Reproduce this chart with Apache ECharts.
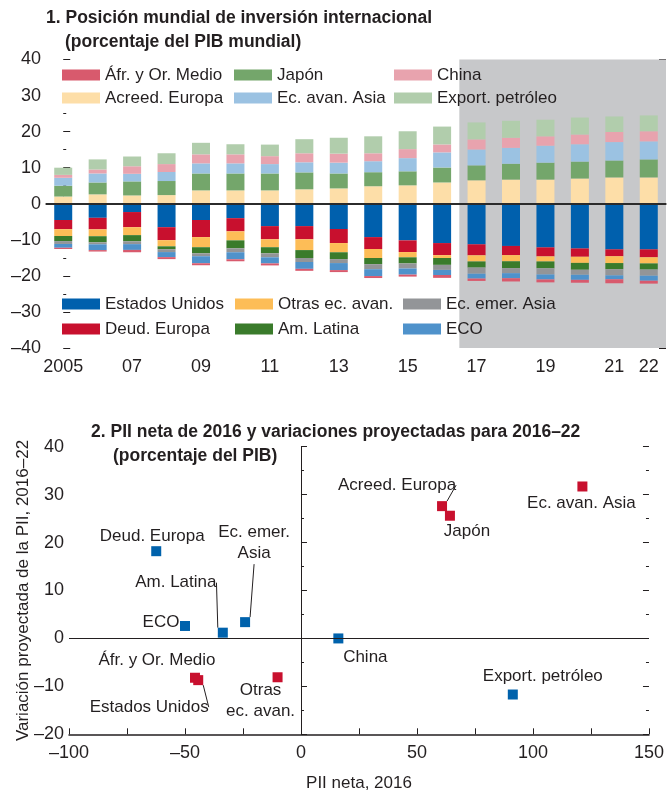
<!DOCTYPE html>
<html>
<head>
<meta charset="utf-8">
<script src="https://cdn.jsdelivr.net/npm/echarts@6.0.0/dist/echarts.min.js"></script>
<style>
html,body{margin:0;padding:0;background:#fff;}
#chart{width:667px;height:794px;}
</style>
</head>
<body>
<div id="chart"></div>
<script>
// ---------- Panel 1 data ----------
const years = ['2005','2006','2007','2008','2009','2010','2011','2012','2013','2014','2015','2016','2017','2018','2019','2020','2021','2022'];
const yearTickLabels = ['2005','','07','','09','','11','','13','','15','','17','','19','','21','22'];
const projectionStart = '2017';

const acreedEuropa = [2.0, 2.6, 2.3, 2.4, 3.7, 3.7, 3.7, 4.0, 4.25, 4.85, 5.1, 5.9, 6.5, 6.7, 6.7, 7.0, 7.3, 7.3];
const japon        = [3.0, 3.3, 3.9, 3.9, 4.7, 4.7, 4.7, 4.7, 4.15, 3.9, 3.9, 4.15, 4.15, 4.4, 4.7, 4.7, 4.7, 5.0];
const ecAvanAsia   = [2.2, 2.5, 2.1, 2.5, 2.8, 2.8, 2.6, 2.8, 3.0, 3.05, 3.65, 4.2, 4.4, 4.4, 4.7, 4.8, 5.1, 5.0];
const china        = [0.8, 1.1, 2.1, 2.2, 2.5, 2.5, 2.2, 2.5, 2.5, 2.2, 2.5, 2.2, 2.8, 2.8, 2.6, 2.7, 2.8, 2.8];
const exportPetro  = [2.0, 2.8, 2.7, 3.0, 3.2, 2.8, 3.2, 3.9, 4.4, 4.7, 4.95, 4.95, 4.7, 4.7, 4.6, 4.7, 4.3, 4.4];

const estadosUnidos = [-4.5, -3.9, -2.3, -6.5, -4.5, -4.0, -6.2, -6.2, -7.0, -9.25, -10.15, -10.9, -11.25, -11.7, -12.1, -12.4, -12.65, -12.65];
const deudEuropa    = [-2.55, -3.2, -4.2, -3.6, -4.75, -3.65, -3.65, -3.65, -3.9, -3.3, -3.25, -3.35, -3.05, -2.55, -2.5, -2.3, -1.9, -2.2];
const otrasEcAvan   = [-1.9, -1.9, -2.2, -1.7, -2.8, -2.5, -2.2, -3.0, -2.55, -2.5, -1.45, -0.8, -1.7, -1.7, -1.4, -1.7, -1.9, -1.7];
const amLatina      = [-1.4, -1.7, -1.7, -0.8, -1.7, -2.2, -1.7, -2.2, -1.9, -1.7, -1.7, -1.9, -1.7, -1.9, -1.9, -1.9, -1.7, -1.7];
const ecEmerAsia    = [-0.8, -0.55, -0.8, -0.8, -0.8, -1.1, -1.1, -1.1, -1.1, -1.4, -1.4, -1.4, -1.7, -1.4, -1.7, -1.4, -1.7, -1.7];
const eco           = [-1.05, -1.6, -1.6, -1.4, -1.95, -1.95, -1.7, -1.9, -1.95, -1.9, -1.7, -1.4, -1.35, -1.4, -1.4, -1.4, -1.1, -1.4];
const afrOrMedio    = [-0.35, -0.4, -0.65, -0.55, -0.55, -0.55, -0.55, -0.55, -0.55, -0.55, -0.55, -0.8, -0.65, -0.9, -0.8, -0.8, -1.1, -0.8];

// ---------- Panel 2 data ----------
const regions      = ['Deud. Europa','Ec. emer. Asia','Am. Latina','ECO','China','Áfr. y Or. Medio','Estados Unidos','Otras ec. avan.','Export. petróleo','Acreed. Europa','Japón','Ec. avan. Asia'];
const regionLabels = ['Deud. Europa','Ec. emer.\nAsia','Am. Latina','ECO','China','Áfr. y Or. Medio','Estados Unidos','Otras\nec. avan.','Export. petróleo','Acreed. Europa','Japón','Ec. avan. Asia'];
const netIIP2016   = [-62.4, -24.1, -33.7, -50.0, 16.1, -45.7, -44.3, -10.1, 91.3, 60.8, 64.2, 121.3];
const projChange   = [18.2, 3.4, 1.2, 2.6, 0.0, -8.2, -8.7, -8.1, -11.7, 27.6, 25.6, 31.7];
const pointGroup   = ['b','b','b','b','b','r','r','r','b','r','r','r'];

// ---------- styles ----------
const INK = '#231F20';
const FONT = '"Liberation Sans", Arial, sans-serif';
const groupColor = {b: '#0062AC', r: '#C8102E'};
const labelOffsets = [[-4,-15],[9,-79],[-47,-50],[-24,-4],[27,19],[-38,-17],[-49,27],[-17,24],[30,-18],[-45,-21],[17,16],[-1,17]];
const leaderLine = [false,true,true,false,false,false,true,false,false,true,false,false];

const dash = v => String(v).replace('-', '\u2013');

const barDefs = [
  ['Acreed. Europa', acreedEuropa, '#FDDEA8'],
  ['Japón', japon, '#74A66B'],
  ['Ec. avan. Asia', ecAvanAsia, '#9BC2E2'],
  ['China', china, '#E8A3AE'],
  ['Export. petróleo', exportPetro, '#B1CDAC'],
  ['Estados Unidos', estadosUnidos, '#0060AD'],
  ['Deud. Europa', deudEuropa, '#C8102E'],
  ['Otras ec. avan.', otrasEcAvan, '#FDBD57'],
  ['Am. Latina', amLatina, '#3A7B2B'],
  ['Ec. emer. Asia', ecEmerAsia, '#939598'],
  ['ECO', eco, '#4F92CB'],
  ['Áfr. y Or. Medio', afrOrMedio, '#D85A6D']
];

const barSeries = barDefs.map(([name, data, color]) => ({
  name, type: 'bar', stack: 'pii', data, barWidth: 18,
  xAxisIndex: 0, yAxisIndex: 0, z: 2,
  itemStyle: {color}, emphasis: {disabled: true}
}));

const legendText = {fontFamily: FONT, fontSize: 17, color: INK, lineHeight: 20};
function legendCol(left, top, gap, names) {
  return {left, top, orient: 'vertical', padding: 0, itemGap: gap, itemWidth: 38, itemHeight: 11,
    icon: 'rect', selectedMode: false, textStyle: legendText, data: names};
}

const titleStyle = {fontFamily: FONT, fontWeight: 'bold', fontSize: 17.5, lineHeight: 22, color: INK};
const axisLabelStyle = {fontFamily: FONT, fontSize: 18, color: INK};
const tickStyle = {color: INK, width: 1};

const scatterData = regions.map((n, i) => ({
  name: n, value: [netIIP2016[i], projChange[i]],
  itemStyle: {color: groupColor[pointGroup[i]], opacity: 1},
  labelLine: {show: leaderLine[i]}
}));

const sIdx = years.indexOf(projectionStart);

const option = {
  animation: false,
  title: [
    {text: '1. Posición mundial de inversión internacional', left: 46, top: 7, padding: 0, textStyle: titleStyle},
    {text: '(porcentaje del PIB mundial)', left: 65, top: 31, padding: 0, textStyle: titleStyle},
    {text: '2. PII neta de 2016 y variaciones proyectadas para 2016–22', left: 91, top: 421, padding: 0, textStyle: titleStyle},
    {text: '(porcentaje del PIB)', left: 113, top: 445, padding: 0, textStyle: titleStyle}
  ],
  legend: [
    legendCol(62, 65, 3, ['Áfr. y Or. Medio', 'Acreed. Europa']),
    legendCol(234, 65, 3, ['Japón', 'Ec. avan. Asia']),
    legendCol(394, 65, 3, ['China', 'Export. petróleo']),
    legendCol(62, 294, 5, ['Estados Unidos', 'Deud. Europa']),
    legendCol(235, 294, 5, ['Otras ec. avan.', 'Am. Latina']),
    legendCol(403, 294, 5, ['Ec. emer. Asia', 'ECO'])
  ],
  grid: [
    {left: 46, right: 1, top: 59.5, height: 288.5},
    {left: 69, right: 12.5, top: 446.7, height: 287.6}
  ],
  xAxis: [
    {type: 'category', gridIndex: 0, data: years, boundaryGap: true,
     axisLine: {lineStyle: {color: INK, width: 1.5}},
     axisTick: {show: true, inside: true, alignWithLabel: true, interval: 0, length: 7, lineStyle: tickStyle},
     axisLabel: Object.assign({interval: 0, margin: 10, formatter: (v, i) => yearTickLabels[i]}, axisLabelStyle),
     splitLine: {show: false}},
    {type: 'value', gridIndex: 0, min: -0.5, max: years.length - 0.5, show: false},
    {type: 'value', gridIndex: 1, min: -100, max: 150, interval: 25,
     name: 'PII neta, 2016', nameLocation: 'middle', nameGap: 41, nameMoveOverlap: false,
     nameTextStyle: {fontFamily: FONT, fontSize: 17, color: INK},
     axisLine: {show: true, onZero: false, lineStyle: {color: INK, width: 1.5}},
     axisTick: {show: true, inside: true, length: 6, lineStyle: tickStyle},
     axisLabel: Object.assign({margin: 10, formatter: v => (v % 50 === 0 ? dash(v) : '')}, axisLabelStyle),
     splitLine: {show: false}}
  ],
  yAxis: [
    {type: 'value', gridIndex: 0, position: 'left', min: -40, max: 40, interval: 10,
     axisLine: {show: false},
     axisTick: {show: true, inside: true, length: 7, lineStyle: tickStyle},
     minorTick: {show: true, splitNumber: 2, length: 3, lineStyle: tickStyle},
     axisLabel: Object.assign({margin: 5, formatter: v => dash(v)}, axisLabelStyle),
     splitLine: {show: false}, minorSplitLine: {show: false}},
    {type: 'value', gridIndex: 0, position: 'right', min: -40, max: 40, interval: 10,
     axisLine: {show: false},
     axisTick: {show: true, inside: true, length: 7, lineStyle: tickStyle},
     minorTick: {show: true, splitNumber: 2, length: 3, lineStyle: tickStyle},
     axisLabel: {show: false}, splitLine: {show: false}},
    {type: 'value', gridIndex: 1, position: 'left', min: -20, max: 40, interval: 10,
     name: 'Variación proyectada de la PII, 2016–22', nameLocation: 'middle', nameGap: 37, nameRotate: 90,
     nameMoveOverlap: false,
     nameTextStyle: {fontFamily: FONT, fontSize: 17, color: INK},
     axisLine: {show: false},
     axisTick: {show: true, inside: true, length: 6, lineStyle: tickStyle},
     minorTick: {show: true, splitNumber: 2, length: 3, lineStyle: tickStyle},
     axisLabel: Object.assign({margin: 5, formatter: v => dash(v)}, axisLabelStyle),
     splitLine: {show: false}},
    {type: 'value', gridIndex: 1, position: 'right', min: -20, max: 40, interval: 10,
     axisLine: {show: false},
     axisTick: {show: true, inside: true, length: 6, lineStyle: tickStyle},
     minorTick: {show: true, splitNumber: 2, length: 3, lineStyle: tickStyle},
     axisLabel: {show: false}, splitLine: {show: false}}
  ],
  series: [
    {type: 'line', name: 'proj', xAxisIndex: 1, yAxisIndex: 0, data: [], z: -1, silent: true,
     markArea: {silent: true, itemStyle: {color: '#C7C8CA'},
       data: [[{xAxis: sIdx - 0.5}, {xAxis: years.length - 0.5}]]}},
    ...barSeries,
    {type: 'line', name: 'zero1', xAxisIndex: 0, yAxisIndex: 0, data: [], z: 6, silent: true,
     markLine: {silent: true, symbol: 'none', label: {show: false},
       lineStyle: {color: '#2b2b2b', width: 2, type: 'solid'}, data: [{yAxis: 0}]}},
    {type: 'line', name: 'zero2', xAxisIndex: 2, yAxisIndex: 2, data: [], z: 1, silent: true,
     markLine: {silent: true, symbol: 'none', label: {show: false},
       lineStyle: {color: INK, width: 1, type: 'solid'}, data: [{xAxis: 0}, {yAxis: 0}]}},
    {type: 'scatter', name: 'pts', xAxisIndex: 2, yAxisIndex: 2, z: 4,
     symbol: 'rect', symbolSize: 10, data: scatterData,
     itemStyle: {opacity: 1},
     label: {show: true, position: 'inside', formatter: p => regionLabels[p.dataIndex],
       fontFamily: FONT, fontSize: 17, lineHeight: 21, color: INK, align: 'center', opacity: 1,
       textBorderWidth: 0, textBorderColor: 'transparent', textShadowBlur: 0},
     labelLine: {show: false, length2: 0.01, smooth: false, lineStyle: {color: INK, width: 1, opacity: 1}},
     labelLayout: p => ({dx: labelOffsets[p.dataIndex][0], dy: labelOffsets[p.dataIndex][1]}),
     emphasis: {disabled: true}}
  ]
};

const chart = echarts.init(document.getElementById('chart'), null, {renderer: 'canvas'});
chart.setOption(option);
</script>
</body>
</html>
